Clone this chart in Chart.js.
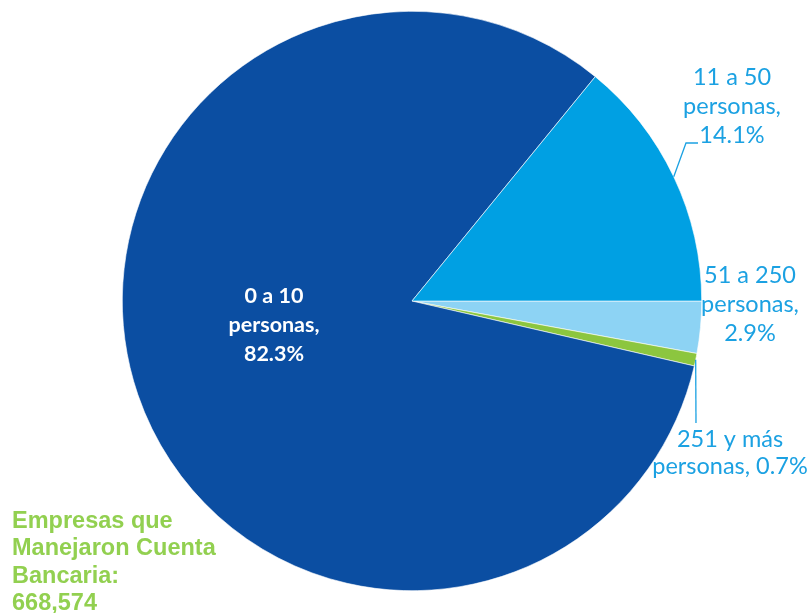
<!DOCTYPE html>
<html>
<head>
<meta charset="utf-8">
<script src="https://cdn.jsdelivr.net/npm/chart.js@4.4.1/dist/chart.umd.min.js"></script>
<style>
  html, body { margin: 0; padding: 0; background: #fff; }
  #wrap { position: relative; width: 810px; height: 613px; }
</style>
</head>
<body>
<div id="wrap"><canvas id="pie"></canvas></div>
<script>
// Slices in clockwise order, starting at 3 o'clock
const categories = ['51 a 250 personas', '251 y más personas', '0 a 10 personas', '11 a 50 personas'];
const shares = [2.9, 0.7, 82.3, 14.1];
const totalLabel = ['Empresas que', 'Manejaron Cuenta', 'Bancaria:', '668,574'];

const SLICE_COLORS = ['#8dd3f4', '#8cc63f', '#0b4ea2', '#00a0e3'];
const LABEL_BLUE = '#1ba1e2';

// where each slice label goes (text block + optional leader line)
const LABEL_LAYOUT = [
    { breaks: ['51 a 250', 'personas,'], x: 750, y: 283, step: 29, color: LABEL_BLUE, bold: false },
    { breaks: ['251 y más', 'personas,'], x: 730, y: 447, step: 27, color: LABEL_BLUE, bold: false, oneLineTail: true,
      leader: [[696, 423]] },
    { breaks: ['0 a 10', 'personas,'], x: 274, y: 303, step: 29, color: '#ffffff', bold: true },
    { breaks: ['11 a 50', 'personas,'], x: 732, y: 85, step: 29, color: LABEL_BLUE, bold: false,
      leader: [[686, 143], [698, 143]] },
];

function labelLines(i) {
    const cfg = LABEL_LAYOUT[i];
    const pct = shares[i].toFixed(1) + '%';
    const head = cfg.breaks[0];
    if (cfg.oneLineTail) return [head, cfg.breaks[1] + ' ' + pct];
    return [head, cfg.breaks[1], pct];
}

const sliceLabels = {
    id: 'sliceLabels',
    afterDatasetsDraw(chart) {
        const ctx = chart.ctx;
        const arcs = chart.getDatasetMeta(0).data;
        ctx.save();
        arcs.forEach((arc, i) => {
            const cfg = LABEL_LAYOUT[i];
            if (cfg.leader) {
                const mid = (arc.startAngle + arc.endAngle) / 2;
                ctx.beginPath();
                ctx.moveTo(arc.x + Math.cos(mid) * arc.outerRadius, arc.y + Math.sin(mid) * arc.outerRadius);
                cfg.leader.forEach(([lx, ly]) => ctx.lineTo(lx, ly));
                ctx.strokeStyle = LABEL_BLUE;
                ctx.lineWidth = 1.3;
                ctx.stroke();
            }
            ctx.fillStyle = cfg.color;
            ctx.font = (cfg.bold ? 'bold 21.5px' : '23.5px') + ' Lato, "Open Sans", sans-serif';
            ctx.textAlign = 'center';
            ctx.textBaseline = 'alphabetic';
            labelLines(i).forEach((t, k) => ctx.fillText(t, cfg.x, cfg.y + k * cfg.step));
        });

        ctx.fillStyle = '#92d050';
        ctx.font = 'bold 23.5px "Liberation Sans", Arial, sans-serif';
        ctx.textAlign = 'left';
        [528, 555, 583, 610].forEach((y, k) => ctx.fillText(totalLabel[k], 12, y));
        ctx.restore();
    }
};

new Chart(document.getElementById('pie'), {
    type: 'pie',
    data: {
        labels: categories,
        datasets: [{
            data: shares,
            backgroundColor: SLICE_COLORS,
            borderColor: '#ffffff',
            borderWidth: 0.6,
        }],
    },
    options: {
        responsive: true,
        maintainAspectRatio: false,
        animation: false,
        rotation: 90,
        layout: { padding: { left: 122, right: 108, top: 11, bottom: 22 } },
        plugins: {
            legend: { display: false },
            tooltip: { enabled: false },
        },
    },
    plugins: [sliceLabels],
});
</script>
</body>
</html>
